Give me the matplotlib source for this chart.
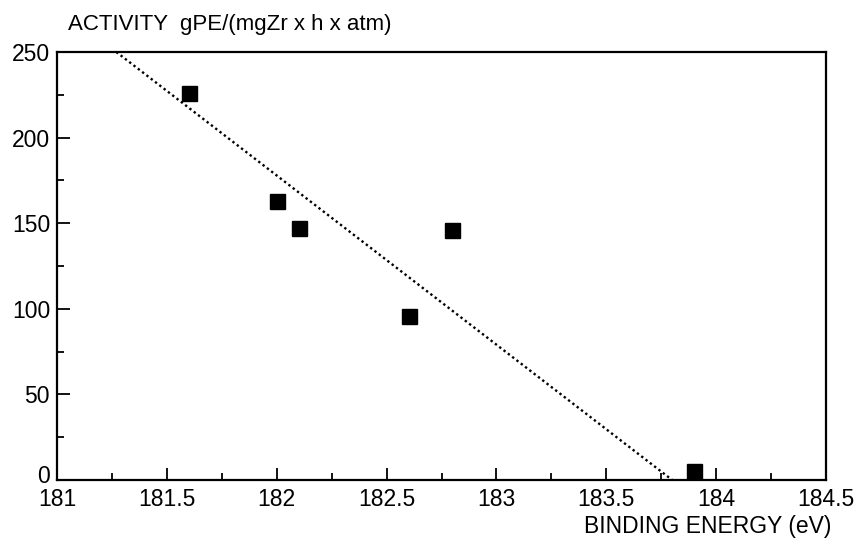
import matplotlib
matplotlib.use("Agg")
import matplotlib.pyplot as plt
from matplotlib.ticker import MultipleLocator
from matplotlib.transforms import ScaledTranslation

plt.rcParams['font.family'] = ['Liberation Sans', 'DejaVu Sans']

binding_energy = [181.6, 182.0, 182.1, 182.6, 182.8, 183.9]
activity = [226, 163, 147, 96, 146, 5]
fit_x = [181.27, 183.8]
fit_y = [250, 0]
x_ticks = [181, 181.5, 182, 182.5, 183, 183.5, 184, 184.5]
x_tick_labels = ['181', '181.5', '182', '182.5', '183', '183.5', '184', '184.5']
y_ticks = [0, 50, 100, 150, 200, 250]

W, H = 856, 540
fig = plt.figure(figsize=(W / 100, H / 100), dpi=100)
left, right, top, bottom = 57, 826, 52, 480
ax = fig.add_axes([left / W, 1 - bottom / H, (right - left) / W, (bottom - top) / H])

ax.plot(fit_x, fit_y, linestyle=(0, (1, 1.3)), color='black', linewidth=1.7)
ax.plot(binding_energy, activity, linestyle='none', marker='s', markersize=10.8,
        color='black', clip_on=False)

ax.set_xlim(181, 184.5)
ax.set_ylim(0, 250)
ax.set_xticks(x_ticks)
ax.set_xticklabels(x_tick_labels)
ax.set_yticks(y_ticks)
ax.xaxis.set_minor_locator(MultipleLocator(0.25))
ax.yaxis.set_minor_locator(MultipleLocator(25))
ax.tick_params(axis='both', which='both', direction='in', labelsize=16.5, width=1.3)
ax.tick_params(axis='both', which='major', length=9)
ax.tick_params(axis='both', which='minor', length=5)
ax.tick_params(axis='x', pad=6)
ax.tick_params(axis='y', pad=5)
for s in ax.spines.values():
    s.set_linewidth(1.6)

# the "0" label sits slightly above the axis line in the reference
for lbl in ax.get_yticklabels():
    if lbl.get_text() == '0':
        lbl.set_transform(lbl.get_transform() + ScaledTranslation(0, 6 / 100, fig.dpi_scale_trans))

fig.text(68 / W, 1 - 30 / H, 'ACTIVITY  gPE/(mgZr x h x atm)', fontsize=16,
         ha='left', va='baseline')
fig.text(831 / W, 1 - 533 / H, 'BINDING ENERGY (eV)', fontsize=16.5,
         ha='right', va='baseline')

fig.savefig('out.png', dpi=100)
